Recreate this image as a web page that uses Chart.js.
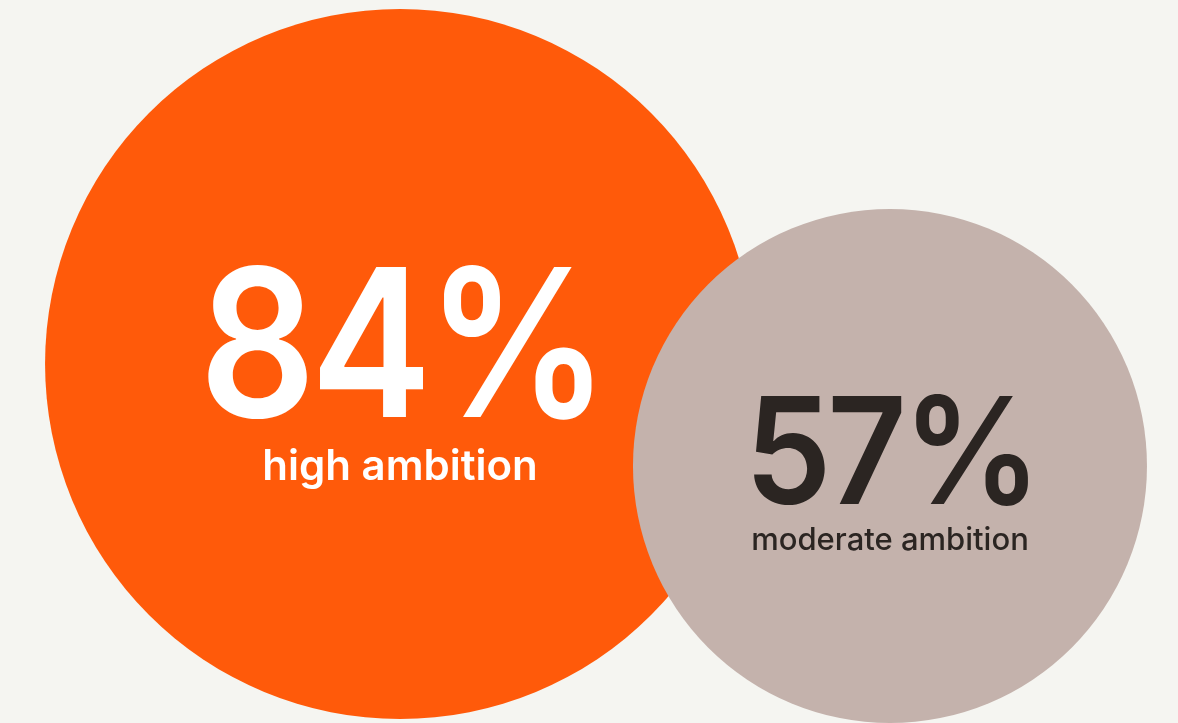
<!DOCTYPE html>
<html>
<head>
<meta charset="utf-8">
<script src="https://cdn.jsdelivr.net/npm/chart.js@4"></script>
<style>
  html, body { margin: 0; padding: 0; background: #f5f5f1; overflow: hidden; }
  #wrap { width: 1178px; height: 723px; }
</style>
</head>
<body>
<div id="wrap"><canvas id="ambitionChart"></canvas></div>
<script>
// share of respondents per ambition level
const categories = ['high ambition', 'moderate ambition'];
const shares = [84, 57];

// where each bubble sits on the 0..1 plane and how big it is (px)
const bubbleLayout = [
    { x: 0.3396, y: 0.5035, r: 355 },
    { x: 0.7555, y: 0.6445, r: 257 }
];
const fillColors = ['#ff5a0a', '#c4b2ac'];
const textColors = ['#ffffff', '#2b2522'];
const labelWeights = [600, 500];
const labelSizes = [0.119, 0.121];   // caption font size as a share of the radius

const FONT = 'Inter, "Liberation Sans", sans-serif';

// draw text condensed to a given width, centred on x
function fitText(ctx, text, x, y, width, spacing) {
    ctx.letterSpacing = spacing + 'px';
    const w = ctx.measureText(text).width - spacing;
    const sx = width / w;
    ctx.save();
    ctx.translate(x - width / 2, y);
    ctx.scale(sx, 1);
    ctx.textAlign = 'left';
    ctx.fillText(text, 0, 0);
    ctx.restore();
}

// numbers and captions drawn in the middle of each bubble
const bubbleText = {
    id: 'bubbleText',
    afterDatasetsDraw(chart) {
        const ctx = chart.ctx;
        const meta = chart.getDatasetMeta(0);
        meta.data.forEach((pt, i) => {
            const r = bubbleLayout[i].r;
            const big = Math.round(r * 0.58);
            ctx.save();
            ctx.textBaseline = 'alphabetic';
            ctx.fillStyle = textColors[i];

            ctx.font = '600 ' + big + 'px ' + FONT;
            fitText(ctx, shares[i] + '%', pt.x + r * 0.012, pt.y + r * 0.149, r * 1.155, -big * 0.03);

            ctx.font = labelWeights[i] + ' ' + Math.round(r * labelSizes[i]) + 'px ' + FONT;
            ctx.letterSpacing = '0px';
            ctx.textAlign = 'center';
            ctx.fillText(categories[i], pt.x, pt.y + r * 0.327);
            ctx.restore();
        });
    }
};

const ctx = document.getElementById('ambitionChart').getContext('2d');

new Chart(ctx, {
    type: 'bubble',
    data: {
        labels: categories,
        datasets: [{
            label: 'ambition',
            data: shares.map((v, i) => ({ x: bubbleLayout[i].x, y: bubbleLayout[i].y, r: bubbleLayout[i].r, v: v })),
            backgroundColor: fillColors,
            hoverBackgroundColor: fillColors,
            borderWidth: 0,
            hoverBorderWidth: 0,
            clip: false
        }]
    },
    options: {
        responsive: true,
        maintainAspectRatio: false,
        animation: false,
        layout: { padding: 0, autoPadding: false },
        plugins: {
            legend: { display: false },
            tooltip: { enabled: false }
        },
        scales: {
            x: { type: 'linear', min: 0, max: 1, display: false },
            y: { type: 'linear', min: 0, max: 1, reverse: true, display: false }
        }
    },
    plugins: [bubbleText]
});
</script>
</body>
</html>
